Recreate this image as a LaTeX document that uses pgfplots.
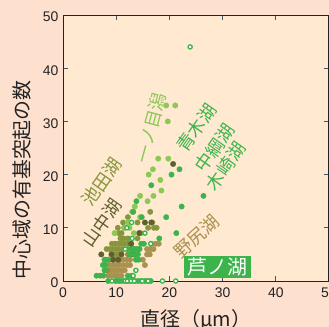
\documentclass[border=0pt]{standalone}
\usepackage{fontspec}
\setmainfont{Liberation Sans}
\newfontfamily\jp{Noto Sans CJK JP}
\usepackage{pgfplots}
\pgfplotsset{compat=1.18}
\definecolor{outerbg}{RGB}{253,224,205}
\definecolor{innerbg}{RGB}{255,233,208}
\definecolor{cTan}{RGB}{170,145,80}
\definecolor{cOlive}{RGB}{135,150,60}
\definecolor{cDark}{RGB}{95,95,45}
\definecolor{cLight}{RGB}{140,200,85}
\definecolor{cGreen}{RGB}{60,180,75}
\definecolor{axc}{RGB}{35,35,35}
\definecolor{tickc}{RGB}{70,85,100}
\begin{document}
\begin{tikzpicture}
\fill[outerbg] (0,0) rectangle (329bp,327bp);
\begin{axis}[
  at={(63bp,46bp)}, anchor=south west,
  scale only axis, width=266bp, height=266bp,
  xmin=0, xmax=50, ymin=0, ymax=50,
  xtick={0,10,...,50}, ytick={0,10,...,50},
  tick align=inside, major tick length=5bp,
  tick style={color=tickc, line width=0.8bp},
  axis line style={color=axc, line width=1bp},
  axis background/.style={fill=innerbg},
  clip=false,
  ticklabel style={font=\fontsize{14}{16}\selectfont, text=axc},
  xticklabel style={yshift=-3bp},
  yticklabel style={yshift=-2bp, xshift=-1bp},
  /pgf/number format/assume math mode=true,
]
% 野尻湖 (tan)
\addplot[only marks, mark=*, mark size=2.7bp, color=cTan] coordinates {
(8.5,1)(9.1,1)(9.7,1)(10.3,1)(11.0,1)
(8.5,2)(9.1,2)(9.7,2)(10.3,2)(11.0,2)(11.6,2)
(8.8,3)(9.4,3)(10.0,3)(10.6,3)(11.3,3)(12.0,3)(12.6,3)(15.4,3)
(9.5,4)(10.1,4)(10.7,4)(11.3,4)(12.0,4)(12.6,4)(15.0,4)
(15.8,5)(16.3,5)
(15.8,6)(16.4,6)(17.0,6)
(16.6,7)(17.4,7)(18.0,7)
};
% 池田湖 (olive)
\addplot[only marks, mark=*, mark size=2.7bp, color=cOlive] coordinates {
(12.2,12)(16.4,13)
(11.3,11)(14.0,11)(16.8,11)
(10.3,10)(11.5,10)(16.0,10)(17.1,10)(17.6,10)
(10.5,9)(11.0,9)(14.6,9)
(10.8,8)(11.4,8)(12.2,8)(14.0,8)
(9.2,7)(9.8,7)(10.4,7)(11.0,7)(11.6,7)(12.2,7)(12.8,7)
(8.2,6)(8.8,6)(9.4,6)(10.0,6)(10.6,6)(11.2,6)(12.8,6)(13.4,6)(14.1,6)
(9.7,5)(10.3,5)(12.2,5)(12.8,5)
(8.0,4)(8.6,4)(8.3,2)
};
% 山中湖 (dark olive)
\addplot[only marks, mark=*, mark size=2.7bp, color=cDark] coordinates {
(7.2,5)(9.1,5)(11.0,5)(13.3,5)(9.4,4)(10.4,4)
(14.3,9)(15.4,11)(16.6,11)(12.8,7)(20.7,22)
};
% 一ノ目潟 (light green)
\addplot[only marks, mark=*, mark size=2.7bp, color=cLight] coordinates {
(19.4,33)(21.1,33)(19.7,30)(17.9,23)(19.8,23)(16.9,21)(16.1,20)
(18.3,19)(18.5,17)(17.0,16)(14.5,16)(15.9,15)(13.5,14)(13.0,13)
(14.5,12)(9.7,9)(12.2,11)(11.6,10)(13.3,9)(12.5,10)
};
% 青木湖・中綱湖・木崎湖 (green)
\addplot[only marks, mark=*, mark size=2.7bp, color=cGreen] coordinates {
(20.4,20)(21.9,21)(16.6,18)(13.8,15)(22.3,14)(26.4,16)(19.4,12)
(21.3,9)(18.1,8)(14.8,12)(13.2,13)(14.7,7)(15.2,7)
(12.2,6)(13.2,6)(13.8,6)(14.4,6)(12.6,5)(13.5,5)(14.1,5)
(13.7,4)(14.2,4)
(7.8,4)(8.4,4)(7.5,3)(8.0,3)(7.8,2)
(6.3,1)(7.0,1)(7.6,1)(12.2,1)(13.0,1)
(8.5,0)(9.9,0)(10.5,0)(11.0,0)(11.6,0)(12.2,0)(12.8,0)(13.5,0)(14.1,0)(14.7,0)(15.4,0)(16.0,0)(16.5,0)
};
% 芦ノ湖 (open)
\addplot[only marks, mark=*, mark size=2.1bp, color=cGreen, mark options={fill=white, line width=1.3bp}] coordinates {
(23.9,44)(12.9,11)(12.0,10)(13.0,8)(11.7,6)(15.4,9)(16.5,7)(13.7,2)(13.2,1)
(9.2,0)(11.7,0)(12.1,0)(12.8,0)(13.4,0)(14.9,0)(16.0,0)(18.7,0)(21.2,0)
};
% labels
\node[font=\jp\fontsize{20}{22}\selectfont, text=axc] at ([yshift=-39bp]rel axis cs:0.5,0) {直径（μm）};
\node[font=\jp\fontsize{20}{22}\selectfont, text=axc, rotate=90] at ([xshift=-41bp]rel axis cs:0,0.38) {中心域の有基突起の数};
% annotations
\node[font=\jp\fontsize{18}{20}\selectfont, text=cOlive, rotate=55] at (axis cs:7.3,18.6) {池田湖};
\node[font=\jp\fontsize{18}{20}\selectfont, text=cDark, rotate=55] at (axis cs:7.3,10.9) {山中湖};
\node[font=\jp\fontsize{18}{20}\selectfont, text=cLight, rotate=75] at (axis cs:16.5,28.8) {一ノ目潟};
\node[font=\jp\fontsize{18}{20}\selectfont, text=cGreen, rotate=55] at (axis cs:25.1,28.8) {青木湖};
\node[font=\jp\fontsize{18}{20}\selectfont, text=cGreen, rotate=55] at (axis cs:28.5,25.0) {中綱湖};
\node[font=\jp\fontsize{18}{20}\selectfont, text=cGreen, rotate=55] at (axis cs:30.6,21.6) {木崎湖};
\node[font=\jp\fontsize{18}{20}\selectfont, text=cTan, rotate=42] at (axis cs:25.1,8.3) {野尻湖};
\node[font=\jp\fontsize{20}{22}\selectfont, text=white, fill=cGreen, inner xsep=3.5bp, inner ysep=1.5bp] at (axis cs:29.1,2.6) {芦ノ湖};
\end{axis}
\pgfresetboundingbox
\path[use as bounding box] (0,0) rectangle (329bp,327bp);
\end{tikzpicture}
\end{document}
